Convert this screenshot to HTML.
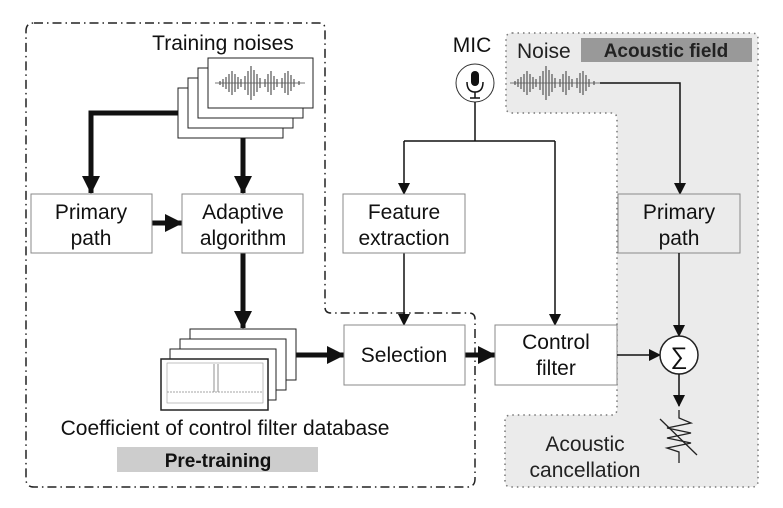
<!DOCTYPE html>
<html><head><meta charset="utf-8"><style>
html,body{margin:0;padding:0;background:#fff;}
svg{display:block;font-family:"Liberation Sans",Arial,sans-serif;}
</style></head><body>
<svg width="783" height="508" viewBox="0 0 783 508" xmlns="http://www.w3.org/2000/svg">
<defs>
<marker id="ah" markerWidth="12" markerHeight="12" refX="11" refY="6" orient="auto" markerUnits="userSpaceOnUse"><path d="M0,0 L12,6 L0,12 z" fill="#111"/></marker>
<marker id="ahb" markerWidth="18" markerHeight="18" refX="17" refY="9" orient="auto" markerUnits="userSpaceOnUse"><path d="M0,0 L18,9 L0,18 z" fill="#111"/></marker>
<g id="wave">
<path d="M0,0 h90" stroke="#777" stroke-width="1"/>
<path d="M5,-2v4M8,-4v8M11,-6v12M14,-9v18M17,-12v24M20,-9v18M23,-6v12M26,-4v8M30,-7v14M33,-12v24M36,-17v34M39,-13v26M42,-9v18M45,-5v10M50,-4v8M53,-9v18M56,-12v24M59,-7v14M62,-4v8M67,-5v10M70,-10v20M73,-12v24M76,-8v16M79,-4v8M84,-2v4" stroke="#555" stroke-width="1.2"/>
</g>
</defs>

<path d="M512,33 H752 Q758,33 758,39 V481 Q758,487 752,487 H511 Q505,487 505,481 V421 Q505,415 511,415 H611 Q617,415 617,409 V119 Q617,113 611,113 H512 Q506,113 506,107 V39 Q506,33 512,33 Z" fill="#ebebeb" stroke="#777" stroke-width="1.5" stroke-dasharray="1.5,4"/>

<path d="M34,23 H319 Q325,23 325,29 V307 Q325,313 331,313 H469 Q475,313 475,319 V479 Q475,487 467,487 H34 Q26,487 26,479 V31 Q26,23 34,23 Z" fill="none" stroke="#222" stroke-width="1.5" stroke-dasharray="9,4,1.5,4"/>

<text x="223" y="50" font-size="21" text-anchor="middle" fill="#111">Training noises</text>
<rect x="178" y="88" width="105" height="50" fill="#fff" stroke="#222" stroke-width="1"/>
<rect x="188" y="78" width="105" height="50" fill="#fff" stroke="#222" stroke-width="1"/>
<rect x="198" y="68" width="105" height="50" fill="#fff" stroke="#222" stroke-width="1"/>
<rect x="208" y="58" width="105" height="50" fill="#fff" stroke="#222" stroke-width="1"/>
<use href="#wave" transform="translate(215,83)"/>

<path d="M178,113 H91 V193" fill="none" stroke="#111" stroke-width="5" marker-end="url(#ahb)"/>
<path d="M243,138 V193" fill="none" stroke="#111" stroke-width="5" marker-end="url(#ahb)"/>
<path d="M152,223 H182" fill="none" stroke="#111" stroke-width="5" marker-end="url(#ahb)"/>
<path d="M243,253 V328" fill="none" stroke="#111" stroke-width="5" marker-end="url(#ahb)"/>
<path d="M296,355 H344" fill="none" stroke="#111" stroke-width="5" marker-end="url(#ahb)"/>
<path d="M465,355 H495" fill="none" stroke="#111" stroke-width="5" marker-end="url(#ahb)"/>

<rect x="31" y="194" width="121" height="59" fill="#fff" stroke="#888" stroke-width="1"/>
<text x="91" y="219" font-size="21" text-anchor="middle" fill="#111">Primary</text>
<text x="91" y="245" font-size="21" text-anchor="middle" fill="#111">path</text>
<rect x="182" y="194" width="121" height="59" fill="#fff" stroke="#888" stroke-width="1"/>
<text x="243" y="219" font-size="21" text-anchor="middle" fill="#111">Adaptive</text>
<text x="243" y="245" font-size="21" text-anchor="middle" fill="#111">algorithm</text>

<rect x="190" y="329" width="106" height="51" fill="#fff" stroke="#222"/>
<rect x="180" y="339" width="106" height="51" fill="#fff" stroke="#222"/>
<rect x="170" y="349" width="106" height="51" fill="#fff" stroke="#222"/>
<rect x="161" y="359" width="107" height="51" fill="#fff" stroke="#222" stroke-width="1.5"/>
<rect x="167" y="363" width="96" height="40" fill="none" stroke="#999" stroke-width="0.6"/>
<path d="M167,392 H263" stroke="#888" stroke-width="0.8" stroke-dasharray="2,1"/>
<path d="M214,392 V364 M218,392 V364" stroke="#777" stroke-width="0.8"/>

<text x="225" y="435" font-size="21" text-anchor="middle" fill="#111">Coefficient of control filter database</text>
<rect x="117" y="447" width="201" height="25" fill="#cdcdcd"/>
<text x="218" y="467" font-size="19" font-weight="bold" text-anchor="middle" fill="#111">Pre-training</text>

<text x="472" y="52" font-size="21" text-anchor="middle" fill="#111">MIC</text>
<circle cx="475" cy="83" r="19" fill="#fff" stroke="#333" stroke-width="1"/>
<rect x="471" y="71" width="8" height="15" rx="4" fill="#111"/>
<path d="M467,82 Q467,92 475,92 Q483,92 483,82 M475,92 V98 M470,98 H480" fill="none" stroke="#111" stroke-width="1.5"/>
<path d="M475,102 V141 M404,141 H555" fill="none" stroke="#111" stroke-width="1.5"/>
<path d="M404,141 V194" fill="none" stroke="#111" stroke-width="1.5" marker-end="url(#ah)"/>
<path d="M555,141 V325" fill="none" stroke="#111" stroke-width="1.5" marker-end="url(#ah)"/>
<path d="M404,253 V325" fill="none" stroke="#111" stroke-width="1.5" marker-end="url(#ah)"/>

<rect x="343" y="194" width="122" height="59" fill="#fff" stroke="#888" stroke-width="1"/>
<text x="404" y="219" font-size="21" text-anchor="middle" fill="#111">Feature</text>
<text x="404" y="245" font-size="21" text-anchor="middle" fill="#111">extraction</text>

<rect x="344" y="325" width="121" height="60" fill="#fff" stroke="#888" stroke-width="1"/>
<text x="404" y="362" font-size="21" text-anchor="middle" fill="#111">Selection</text>
<rect x="495" y="325" width="122" height="60" fill="#fff" stroke="#888" stroke-width="1"/>
<text x="556" y="349" font-size="21" text-anchor="middle" fill="#111">Control</text>
<text x="556" y="375" font-size="21" text-anchor="middle" fill="#111">filter</text>

<text x="517" y="58" font-size="21" fill="#222">Noise</text>
<rect x="581" y="38" width="171" height="24" fill="#999"/>
<text x="666" y="57" font-size="19" font-weight="bold" text-anchor="middle" fill="#222">Acoustic field</text>
<use href="#wave" transform="translate(510,83)"/>
<path d="M600,83 H680 V194" fill="none" stroke="#111" stroke-width="1.5" marker-end="url(#ah)"/>
<rect x="618" y="194" width="122" height="59" fill="#ebebeb" stroke="#888" stroke-width="1"/>
<text x="679" y="219" font-size="21" text-anchor="middle" fill="#111">Primary</text>
<text x="679" y="245" font-size="21" text-anchor="middle" fill="#111">path</text>
<path d="M679,253 V336" fill="none" stroke="#111" stroke-width="1.5" marker-end="url(#ah)"/>
<path d="M617,355 H660" fill="none" stroke="#111" stroke-width="1.5" marker-end="url(#ah)"/>
<circle cx="679" cy="355" r="19" fill="#fff" stroke="#222" stroke-width="1.5"/>
<text x="679" y="364" font-size="24" text-anchor="middle" fill="#111">∑</text>
<path d="M679,374 V406" fill="none" stroke="#111" stroke-width="1.5" marker-end="url(#ah)"/>
<path d="M679,410 V418 L691,423 L667,428 L691,433 L667,438 L691,443 L667,448 L679,452 V463" fill="none" stroke="#222" stroke-width="1.3"/>
<path d="M660,419 L697,455" stroke="#222" stroke-width="1.3"/>
<text x="585" y="451" font-size="21" text-anchor="middle" fill="#222">Acoustic</text>
<text x="585" y="477" font-size="21" text-anchor="middle" fill="#222">cancellation</text>
</svg>
</body></html>
